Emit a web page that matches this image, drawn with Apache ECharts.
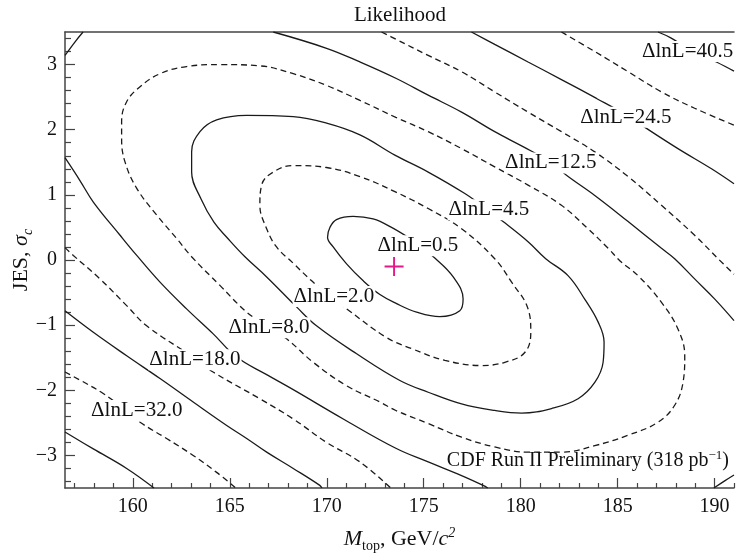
<!DOCTYPE html>
<html>
<head>
<meta charset="utf-8">
<script src="https://cdn.jsdelivr.net/npm/echarts@6/dist/echarts.min.js"></script>
<style>
  html, body { margin: 0; padding: 0; background: #fff; }
  #chart { width: 736px; height: 553px; }
</style>
</head>
<body>
<div id="chart"></div>
<script>
// contour points, [Mtop, JES]
const dl05 = [[174.44,0.30],[175.57,0.03],[176.52,-0.26],[177.03,-0.60],[176.86,-0.78],[175.83,-0.87],[174.63,-0.80],[173.60,-0.67],[172.74,-0.53],[171.88,-0.32],[171.02,-0.06],[170.33,0.20],[170.04,0.35],[170.16,0.50],[170.50,0.62],[171.36,0.67],[172.39,0.63],[173.34,0.50],[174.44,0.30]];
const dl20 = [[170.16,-0.56],[169.22,-0.32],[168.27,-0.05],[167.41,0.20],[166.90,0.48],[166.55,0.84],[166.64,1.15],[167.24,1.35],[168.27,1.45],[169.99,1.42],[171.71,1.28],[173.51,1.05],[175.23,0.79],[176.95,0.48],[178.66,0.02],[179.53,-0.34],[180.38,-0.75],[180.52,-1.11],[180.21,-1.42],[179.18,-1.57],[177.98,-1.62],[176.09,-1.54],[174.37,-1.36],[173.08,-1.19],[171.02,-0.75],[170.16,-0.56]];
const dl45 = [[178.10,0.81],[179.09,0.59],[180.38,0.28],[181.29,0.02],[182.44,-0.24],[183.30,-0.60],[183.99,-0.95],[184.30,-1.26],[184.25,-1.57],[183.82,-1.88],[182.96,-2.13],[181.59,-2.28],[180.04,-2.35],[178.66,-2.31],[176.95,-2.21],[175.23,-2.03],[173.77,-1.85],[171.54,-1.44],[169.47,-1.01],[168.44,-0.72],[166.90,-0.26],[165.78,0.05],[164.90,0.33],[164.18,0.58],[163.51,0.94],[163.03,1.35],[163.03,1.66],[163.46,1.97],[164.32,2.15],[165.87,2.22],[168.27,2.20],[169.99,2.10],[171.71,1.92],[173.51,1.61],[175.23,1.35],[177.12,1.02],[178.10,0.81]];
const dl80 = [[167.02,-1.04],[165.87,-0.80],[164.49,-0.39],[163.03,0.05],[162.26,0.33],[161.23,0.69],[160.20,1.10],[159.59,1.51],[159.42,1.86],[159.42,2.12],[159.68,2.43],[160.37,2.66],[161.40,2.86],[162.77,2.97],[164.49,3.00],[166.55,2.98],[168.27,2.86],[169.99,2.68],[171.71,2.45],[173.56,2.19],[175.23,1.97],[176.95,1.71],[178.66,1.43],[180.38,1.15],[182.10,0.84],[183.47,0.48],[184.51,0.18],[185.11,-0.01],[186.05,-0.24],[187.26,-0.65],[188.11,-1.06],[188.46,-1.47],[188.37,-1.88],[187.94,-2.23],[187.08,-2.49],[185.54,-2.69],[183.82,-2.85],[182.10,-2.95],[180.38,-2.95],[178.66,-2.87],[176.95,-2.72],[175.23,-2.51],[173.56,-2.31],[172.74,-2.18],[171.02,-1.93],[169.30,-1.57],[167.93,-1.21],[167.02,-1.04]];
// outer contours leave the frame, so they come in pieces
const dl125 = [
  [[156.50,1.57],[157.27,1.22],[157.96,0.89],[159.34,0.38],[160.20,0.07],[161.40,-0.34],[162.77,-0.75],[164.13,-1.13],[165.35,-1.49],[166.90,-1.76],[168.27,-1.99],[170.85,-2.44],[173.56,-2.89],[175.23,-3.10],[176.95,-3.31],[178.06,-3.46],[178.30,-3.50]],
  [[156.50,3.14],[157.02,3.35],[157.43,3.50]],
  [[167.24,3.50],[169.99,3.25],[171.71,3.04],[173.56,2.79],[175.23,2.53],[176.95,2.27],[178.66,1.97],[180.12,1.74],[181.55,1.50],[182.36,1.30],[183.82,0.99],[185.54,0.59],[187.26,0.18],[187.94,0.02],[188.97,-0.29],[190.01,-0.60],[191.00,-0.93]],
  [[189.96,-3.50],[190.52,-3.39],[191.00,-3.30]]
];
const dl180 = [
  [[156.50,0.19],[156.93,0.07],[158.30,-0.29],[159.68,-0.70],[160.71,-1.01],[163.20,-1.51],[164.14,-1.72],[166.55,-2.13],[168.27,-2.44],[169.99,-2.80],[171.71,-3.10],[173.30,-3.50]],
  [[172.82,3.50],[173.56,3.39],[175.23,3.14],[176.95,2.89],[178.66,2.58],[180.38,2.27],[182.10,1.97],[183.82,1.66],[185.54,1.28],[187.26,0.84],[188.97,0.38],[190.18,0.02],[191.00,-0.22]]
];
const dl245 = [
  [[156.50,-0.78],[157.96,-1.11],[159.68,-1.47],[161.40,-1.82],[163.11,-2.18],[164.84,-2.54],[165.87,-2.74],[166.90,-2.95],[168.27,-3.20],[169.64,-3.46],[169.75,-3.50]],
  [[177.46,3.50],[178.66,3.31],[180.38,3.04],[182.10,2.77],[183.91,2.48],[185.42,2.23],[186.23,2.07],[188.11,1.71],[189.84,1.40],[191.00,1.17]]
];
const dl320 = [
  [[156.50,-1.72],[157.62,-1.90],[158.47,-2.05],[159.44,-2.26],[160.37,-2.49],[161.74,-2.74],[163.11,-3.00],[164.32,-3.26],[165.31,-3.50]],
  [[182.10,3.50],[183.82,3.20],[185.54,2.89],[187.26,2.58],[188.97,2.33],[191.00,2.07]]
];
const dl405 = [
  [[156.50,-2.64],[157.96,-2.90],[159.68,-3.20],[161.09,-3.50]],
  [[187.08,3.50],[187.74,3.41],[188.72,3.23],[190.09,3.04],[191.00,2.90]]
];

const labelText = ['ΔlnL=0.5', 'ΔlnL=2.0', 'ΔlnL=4.5', 'ΔlnL=8.0', 'ΔlnL=12.5', 'ΔlnL=18.0', 'ΔlnL=24.5', 'ΔlnL=32.0', 'ΔlnL=40.5'];
const labelPos = [[174.70,0.22],[170.37,-0.56],[178.36,0.77],[167.02,-1.04],[181.55,1.49],[163.20,-1.53],[185.42,2.19],[160.20,-2.31],[188.61,3.20]];
const bestFit = [173.47, -0.10];

const xTicks = [160, 165, 170, 175, 180, 185, 190];
const yTicks = [-3, -2, -1, 0, 1, 2, 3];

const xMinor = [];
for (let v = 157; v <= 191; v++) if (v % 5 !== 0) xMinor.push(v);
const yMinor = [];
for (let k = -17; k <= 17; k++) if (k % 5 !== 0) yMinor.push(+(k * 0.2).toFixed(1));

const serif = 'Liberation Serif';
const axisColor = '#444';
const textColor = '#111';

const contours = [
  { pieces: [dl05], dashed: false },
  { pieces: [dl20], dashed: true },
  { pieces: [dl45], dashed: false },
  { pieces: [dl80], dashed: true },
  { pieces: dl125, dashed: false },
  { pieces: dl180, dashed: true },
  { pieces: dl245, dashed: false },
  { pieces: dl320, dashed: true },
  { pieces: dl405, dashed: false }
];

const lineSeries = [];
contours.forEach(c => {
  c.pieces.forEach(p => {
    lineSeries.push({
      type: 'line',
      data: p,
      smooth: 0.4,
      symbol: 'none',
      clip: true,
      silent: true,
      z: 2,
      lineStyle: { color: '#1a1a1a', width: 1.3, type: c.dashed ? [6, 4] : 'solid' }
    });
  });
});

const chart = echarts.init(document.getElementById('chart'));

const option = {
  animation: false,
  backgroundColor: '#fff',
  grid: { left: 65, right: 2, top: 32, bottom: 65, containLabel: false, outerBoundsMode: 'none' },
  graphic: [
    {
      type: 'text', x: 400, y: 15,
      style: { text: 'Likelihood', font: '21px "Liberation Serif"', fill: textColor, textAlign: 'center', textVerticalAlign: 'middle' }
    },
    {
      type: 'text', x: 729, y: 461, z: 10,
      style: {
        text: '{n|CDF Run II Preliminary (318 pb}{p|−1}{n|)}',
        textAlign: 'right', textVerticalAlign: 'middle',
        rich: {
          n: { fontFamily: serif, fontSize: 20, fill: textColor },
          p: { fontFamily: serif, fontSize: 13, fill: textColor, padding: [0, 0, 10, 0] }
        }
      }
    }
  ],
  xAxis: [
    {
      type: 'value', min: 156.5, max: 191, position: 'bottom',
      axisLine: { show: true, onZero: false, lineStyle: { color: axisColor, width: 1.5 } },
      axisTick: { show: true, inside: true, length: 10, customValues: xTicks, lineStyle: { color: axisColor, width: 1.2 } },
      axisLabel: { customValues: xTicks, fontFamily: serif, fontSize: 20, color: textColor, margin: 9 },
      splitLine: { show: false },
      name: '{i|M}{s|top}{n|, GeV/}{i|c}{p|2}',
      nameLocation: 'middle',
      nameGap: 37,
      nameTextStyle: {
        fontFamily: serif, fontSize: 22, color: textColor,
        rich: {
          n: { fontFamily: serif, fontSize: 22, color: textColor },
          i: { fontFamily: serif, fontSize: 22, fontStyle: 'italic', color: textColor },
          s: { fontFamily: serif, fontSize: 14, color: textColor, padding: [14, 0, 0, 0] },
          p: { fontFamily: serif, fontSize: 14, fontStyle: 'italic', color: textColor, padding: [0, 0, 12, 0] }
        }
      }
    },
    {
      type: 'value', min: 156.5, max: 191, position: 'bottom',
      axisLine: { show: false, onZero: false },
      axisTick: { show: true, inside: true, length: 5, customValues: xMinor, lineStyle: { color: axisColor, width: 1.2 } },
      axisLabel: { show: false },
      splitLine: { show: false }
    },
    {
      type: 'value', min: 156.5, max: 191, position: 'top',
      axisLine: { show: true, onZero: false, lineStyle: { color: axisColor, width: 1.5 } },
      axisTick: { show: false },
      axisLabel: { show: false },
      splitLine: { show: false }
    }
  ],
  yAxis: [
    {
      type: 'value', min: -3.5, max: 3.5, position: 'left',
      axisLine: { show: true, onZero: false, lineStyle: { color: axisColor, width: 1.5 } },
      axisTick: { show: true, inside: true, length: 10, customValues: yTicks, lineStyle: { color: axisColor, width: 1.2 } },
      axisLabel: {
        customValues: yTicks, fontFamily: serif, fontSize: 20, color: textColor, margin: 8,
        formatter: v => (v < 0 ? '\u2212' + Math.abs(v) : String(v))
      },
      splitLine: { show: false },
      name: '{n|JES, }{i|σ}{s|c}',
      nameLocation: 'middle',
      nameMoveOverlap: false,
      nameGap: 30,
      nameTextStyle: {
        fontFamily: serif, fontSize: 22, color: textColor,
        rich: {
          n: { fontFamily: serif, fontSize: 22, color: textColor },
          i: { fontFamily: serif, fontSize: 22, fontStyle: 'italic', color: textColor },
          s: { fontFamily: serif, fontSize: 14, fontStyle: 'italic', color: textColor, padding: [14, 0, 0, 0] }
        }
      }
    },
    {
      type: 'value', min: -3.5, max: 3.5, position: 'left',
      axisLine: { show: false, onZero: false },
      axisTick: { show: true, inside: true, length: 6, customValues: yMinor, lineStyle: { color: axisColor, width: 1.2 } },
      axisLabel: { show: false },
      splitLine: { show: false }
    }
  ],
  series: lineSeries.concat([
    {
      type: 'scatter',
      data: labelPos.map((p, i) => ({ value: p, label: { formatter: labelText[i] } })),
      symbolSize: 1,
      itemStyle: { color: 'transparent', opacity: 1 },
      silent: true,
      z: 5,
      label: {
        show: true, position: 'inside', opacity: 1,
        fontFamily: serif, fontSize: 21, color: textColor,
        backgroundColor: '#fff', padding: [0, 1]
      }
    },
    {
      type: 'scatter',
      data: [bestFit],
      symbol: 'path://M9,0 H11 V9 H20 V11 H11 V20 H9 V11 H0 V9 H9 Z',
      symbolSize: 19,
      itemStyle: { color: '#e4188b', opacity: 1 },
      silent: true,
      z: 6
    }
  ])
};

chart.setOption(option);
</script>
</body>
</html>
